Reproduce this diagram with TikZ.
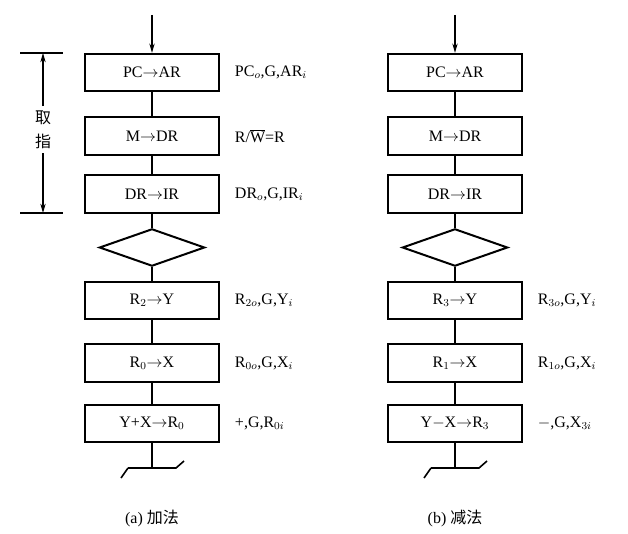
\documentclass[tikz,border=0pt]{standalone}
\usepackage{fontspec}
\setmainfont{Liberation Serif}
\newfontfamily\cjk{Noto Sans CJK SC}
\usetikzlibrary{positioning,shapes.geometric,arrows.meta}
\tikzset{
  opbox/.style={draw, line width=1.5pt, minimum width=100pt, minimum height=28pt, inner sep=0pt, font=\large},
  test/.style={draw, diamond, aspect=2.8, line width=1.5pt, minimum width=79pt, minimum height=28pt, inner sep=0pt},
  sig/.style={anchor=west, font=\large},
}
\begin{document}
\begin{tikzpicture}[x=0.75pt, y=-0.75pt, >={Stealth[length=7pt,width=4pt]}, line width=0.8pt]
	\useasboundingbox (0,0) rectangle (628,534);
	% (a) addition
	\node[opbox] (a1) at (152,72.5) {PC$\rightarrow$AR};
	\node[opbox] (a2) at (152,136) {M$\rightarrow$DR};
	\node[opbox] (a3) at (152,194) {DR$\rightarrow$IR};
	\node[test] (ad) at (152,247.5) {};
	\node[opbox] (a4) at (152,300.5) {R$_2{\rightarrow}$Y};
	\node[opbox] (a5) at (152,363) {R$_0{\rightarrow}$X};
	\node[opbox] (a6) at (152,423.5) {Y+X$\rightarrow$R$_0$};
	\coordinate (atop) at (152,15);
	\coordinate (afork) at (152,468);
	
	\node[sig] at (230,72.5) {PC$_o$,G,AR$_i$};
	\node[sig] at (230,136) {R/$\overline{\mbox{W}}$=R};
	\node[sig] at (230,194) {DR$_o$,G,IR$_i$};
	\node[sig] at (230,300.5) {R$_{2o}$,G,Y$_i$};
	\node[sig] at (230,363) {R$_{0o}$,G,X$_i$};
	\node[sig] at (230,423.5) {+,G,R$_{0i}$};
	
	\draw[->] (atop) -- (a1);
	\draw (a1) -- (a2) -- (a3) -- (ad) -- (a4) -- (a5) -- (a6) -- (afork);
	\draw[line width=1.2pt] (afork) ++(-24,0) coordinate (al) -- ++(48,0) -- ++(8,-7);
	\draw[line width=1.2pt] (al) -- ++(-7,10);
	
	% fetch bracket
	\coordinate (b1) at (20,53);
	\coordinate (b2) at (20,213);
	\draw (b1) -- ++(43,0);
	\draw (b2) -- ++(43,0);
	\node[font=\cjk\large] (qu) at (43,118) {取};
	\node[font=\cjk\large] (zhi) at (43,141) {指};
	\draw[->] (qu) -- (43,53);
	\draw[->] (zhi) -- (43,213);
	
	% (b) subtraction
	\node[opbox] (s1) at (455,72.5) {PC$\rightarrow$AR};
	\node[opbox] (s2) at (455,136) {M$\rightarrow$DR};
	\node[opbox] (s3) at (455,194) {DR$\rightarrow$IR};
	\node[test] (sd) at (455,247.5) {};
	\node[opbox] (s4) at (455,300.5) {R$_3{\rightarrow}$Y};
	\node[opbox] (s5) at (455,363) {R$_1{\rightarrow}$X};
	\node[opbox] (s6) at (455,423.5) {Y$-$X$\rightarrow$R$_3$};
	\coordinate (stop) at (455,15);
	\coordinate (sfork) at (455,468);
	
	\node[sig] at (533,300.5) {R$_{3o}$,G,Y$_i$};
	\node[sig] at (533,363) {R$_{1o}$,G,X$_i$};
	\node[sig] at (533,423.5) {$-$,G,X$_{3i}$};
	
	\draw[->] (stop) -- (s1);
	\draw (s1) -- (s2) -- (s3) -- (sd) -- (s4) -- (s5) -- (s6) -- (sfork);
	\draw[line width=1.2pt] (sfork) ++(-24,0) coordinate (sl) -- ++(48,0) -- ++(8,-7);
	\draw[line width=1.2pt] (sl) -- ++(-7,10);
	
	\node[font=\large] (capa) at (152,518) {(a) {\cjk 加法}};
	\node[font=\large] (capb) at (455,518) {(b) {\cjk 减法}};
\end{tikzpicture}
\end{document}
